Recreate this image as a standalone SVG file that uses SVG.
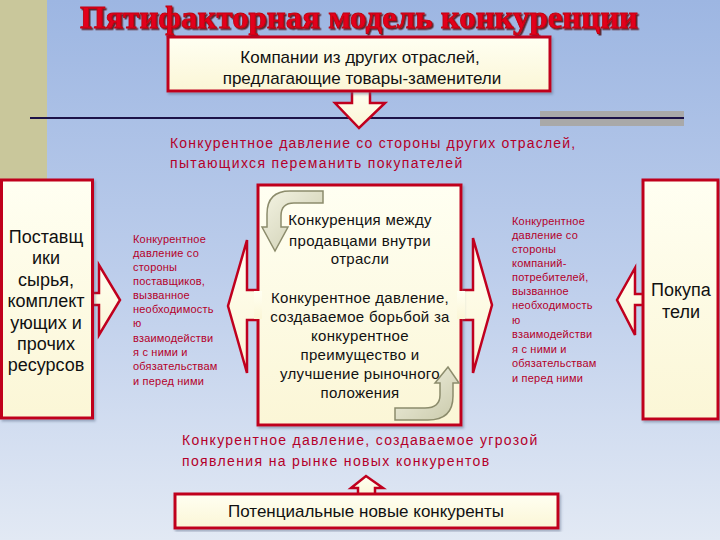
<svg xmlns="http://www.w3.org/2000/svg" width="720" height="540" viewBox="0 0 720 540">
<defs>
<linearGradient id="bg" x1="0" y1="0" x2="0" y2="1">
<stop offset="0" stop-color="#9db6e2"/>
<stop offset="0.5" stop-color="#bccdeb"/>
<stop offset="1" stop-color="#e2e9f4"/>
</linearGradient>
<linearGradient id="cream" x1="0" y1="0" x2="0" y2="1">
<stop offset="0" stop-color="#fffff2"/>
<stop offset="1" stop-color="#fbf6d6"/>
</linearGradient>
<linearGradient id="curv" x1="0" y1="0" x2="1" y2="1">
<stop offset="0" stop-color="#f4f4e4"/>
<stop offset="1" stop-color="#c9c9aa"/>
</linearGradient>
<filter id="tsh" x="-5%" y="-20%" width="110%" height="150%">
<feDropShadow dx="1.5" dy="1.5" stdDeviation="0.6" flood-color="#4a0000" flood-opacity="0.8"/>
</filter>
<filter id="bsh" x="-5%" y="-5%" width="110%" height="115%">
<feDropShadow dx="1.5" dy="2" stdDeviation="1.2" flood-color="#506080" flood-opacity="0.45"/>
</filter>
</defs>
<style>
.box{fill:url(#cream);stroke:#c0001e;stroke-width:3}
.afill{fill:url(#cream);stroke:none}
.aline{fill:none;stroke:#c0001e;stroke-width:2.5;stroke-linejoin:miter}
.curved{fill:url(#curv);stroke:#8c8c6c;stroke-width:1.5}
.blk{font-family:"Liberation Sans",Arial,sans-serif;fill:#111;text-anchor:middle}
.red{font-family:"Liberation Sans",Arial,sans-serif;fill:#b4002a}
.sm{font-size:11px;letter-spacing:0.2px}
.md{font-size:14px;letter-spacing:0.8px}
.title{font-family:"Liberation Serif","Times New Roman",serif;font-weight:bold;font-size:31px;fill:#e2001a;stroke:#c00010;stroke-width:0.8;text-anchor:middle}
</style>
<rect width="720" height="540" fill="url(#bg)"/>
<rect x="0" y="0" width="47" height="180" fill="#c9c79b"/>
<rect x="540" y="111" width="144" height="15" fill="#a9a9a9"/>
<line x1="30" y1="118" x2="684" y2="118" stroke="#1c1248" stroke-width="2.2"/>

<text class="title" x="359" y="28" textLength="558" lengthAdjust="spacingAndGlyphs" filter="url(#tsh)">Пятифакторная модель конкуренции</text>

<g id="connectors">
<g id="arrow-top">
<path class="afill" d="M352,88 L352,103 L335,103 L359,128 L385,103 L370,103 L370,88 Z"/>
<path class="aline" d="M352,90 L352,103 L335,103 L359,128 L385,103 L370,103 L370,90"/>
</g>
<g id="arrow-left-out">
<path class="afill" d="M90,293 L99,293 L99,265 L120,300 L99,335 L99,305 L90,305 Z"/>
<path class="aline" d="M93,293 L99,293 L99,265 L120,300 L99,335 L99,305 L93,305"/>
</g>
<g id="arrow-center-left">
<path class="afill" d="M262,290 L247,290 L247,240 L228,306 L247,373 L247,320 L262,320 Z"/>
<path class="aline" d="M258,290 L247,290 L247,240 L228,306 L247,373 L247,320 L258,320"/>
</g>
<g id="arrow-center-right">
<path class="afill" d="M457,290 L473,290 L473,238 L492,305 L473,373 L473,320 L457,320 Z"/>
<path class="aline" d="M461,290 L473,290 L473,238 L492,305 L473,373 L473,320 L461,320"/>
</g>
<g id="arrow-right-out">
<path class="afill" d="M646,294 L635,294 L635,268 L617,300 L635,335 L635,305 L646,305 Z"/>
<path class="aline" d="M643,294 L635,294 L635,268 L617,300 L635,335 L635,305 L643,305"/>
</g>
<g id="arrow-bottom">
<path class="afill" d="M358,497 L358,488 L351,488 L366,476 L383,488 L375,488 L375,497 Z"/>
<path class="aline" d="M358,494 L358,488 L351,488 L366,476 L383,488 L375,488 L375,494"/>
</g>
</g>

<g id="node-top">
<rect class="box" x="168" y="37" width="382" height="54" filter="url(#bsh)"/>
<text class="blk" font-size="17" x="360" y="63">Компании из других отраслей,</text>
<text class="blk" font-size="17" x="362" y="84">предлагающие товары-заменители</text>
</g>

<g id="label-top">
<text class="red md" x="170" y="148" textLength="406">Конкурентное давление со стороны других отраслей,</text>
<text class="red md" x="170" y="168" textLength="293">пытающихся переманить покупателей</text>
</g>

<g id="node-left">
<rect class="box" x="1.5" y="180" width="91" height="238" filter="url(#bsh)"/>
<g class="blk" font-size="18">
<text x="46" y="243">Поставщ</text>
<text x="46" y="264">ики</text>
<text x="46" y="286">сырья,</text>
<text x="46" y="307">комплект</text>
<text x="46" y="329">ующих и</text>
<text x="46" y="350">прочих</text>
<text x="46" y="371">ресурсов</text>
</g>
</g>

<g id="label-left" class="red sm">
<text x="133" y="243">Конкурентное</text>
<text x="133" y="257">давление со</text>
<text x="133" y="271">стороны</text>
<text x="133" y="285">поставщиков,</text>
<text x="133" y="299">вызванное</text>
<text x="133" y="313">необходимость</text>
<text x="133" y="327">ю</text>
<text x="133" y="342">взаимодействи</text>
<text x="133" y="356">я с ними и</text>
<text x="133" y="370">обязательствам</text>
<text x="133" y="385">и перед ними</text>
</g>

<g id="node-center">
<rect class="box" x="258" y="185" width="203" height="240" filter="url(#bsh)"/>
<path class="afill" d="M254,291 L262,291 L262,319 L254,319 Z"/>
<path class="afill" d="M457,291 L465,291 L465,319 L457,319 Z"/>
<g class="blk" font-size="15" letter-spacing="0.3">
<text x="360" y="225">Конкуренция между</text>
<text x="360" y="246">продавцами внутри</text>
<text x="360" y="264">отрасли</text>
<text x="360" y="303">Конкурентное давление,</text>
<text x="360" y="322">создаваемое борьбой за</text>
<text x="360" y="341">конкурентное</text>
<text x="360" y="360">преимущество и</text>
<text x="360" y="379">улучшение рыночного</text>
<text x="360" y="398">положения</text>
</g>
<path class="curved" d="M323,191 L290,191 Q267,191 267,214 L267,227 L262,227 L275,251 L288,227 L281,227 L281,216 Q281,203 294,203 L323,203 Z"/>
<path class="curved" d="M395,408 L425,408 Q440,408 440,395 L440,383 L435,383 L448,367 L459,383 L453,383 L453,396 Q453,420 428,420 L395,420 Z"/>
</g>

<g id="label-right" class="red sm">
<text x="512" y="225">Конкурентное</text>
<text x="512" y="239">давление со</text>
<text x="512" y="253">стороны</text>
<text x="512" y="267">компаний-</text>
<text x="512" y="281">потребителей,</text>
<text x="512" y="295">вызванное</text>
<text x="512" y="309">необходимость</text>
<text x="512" y="324">ю</text>
<text x="512" y="338">взаимодействи</text>
<text x="512" y="353">я с ними и</text>
<text x="512" y="367">обязательствам</text>
<text x="512" y="382">и перед ними</text>
</g>

<g id="node-right">
<rect class="box" x="643" y="180" width="75" height="239" filter="url(#bsh)"/>
<text class="blk" font-size="18" x="681" y="296">Покупа</text>
<text class="blk" font-size="18" x="681" y="318">тели</text>
</g>

<g id="label-bottom">
<text class="red md" x="182" y="445" textLength="356">Конкурентное давление, создаваемое угрозой</text>
<text class="red md" x="182" y="466" textLength="308">появления на рынке новых конкурентов</text>
</g>

<g id="node-bottom">
<rect class="box" x="175" y="494" width="383" height="34" filter="url(#bsh)"/>
<text class="blk" font-size="17" x="366" y="517">Потенциальные новые конкуренты</text>
</g>
</svg>
